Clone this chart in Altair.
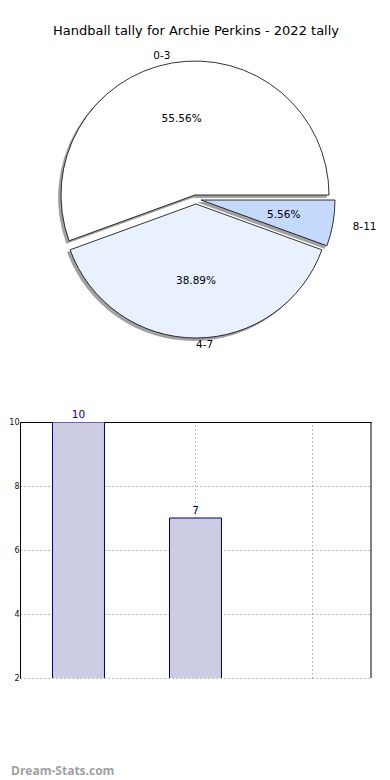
import math
import altair as alt
import pandas as pd

# ---- data ----
categories = ["0-3", "4-7", "8-11"]
tallies = [10, 7, 1]
title_text = "Handball tally for Archie Perkins - 2022 tally"
y_ticks = [2, 4, 6, 8, 10]
y_view = [2, 10]          # visible part of the bar chart's y axis
watermark = "Dream-Stats.com"

df = pd.DataFrame({"group": categories, "tally": tallies})

FONT = "DejaVu Sans"

# ---- pie styling (positions in px inside the pie panel) ----
CX, CY, R = 175, 186, 134
SHADOW_DX, SHADOW_DY = -2.5, 2.5
slice_style = {
    "0-3": dict(fill="#ffffff", dx=0, dy=0, pct_r=77, lab_r=141, align="right"),
    "4-7": dict(fill="#eaf1fe", dx=1, dy=9, pct_r=77, lab_r=141, align="left"),
    "8-11": dict(fill="#c5d9fd", dx=6, dy=5, pct_r=84, lab_r=154, align="left"),
}

theta_scale = alt.Scale(
    domain=[0, sum(tallies)],
    range=[math.pi / 2, math.pi / 2 + 2 * math.pi],
    nice=False,
    zero=True,
)

pie_base = (
    alt.Chart(df)
    .transform_joinaggregate(total="sum(tally)")
    .transform_window(end="sum(tally)", sort=[alt.SortField("group", order="descending")])
    .transform_calculate(
        start="datum.end - datum.tally",
        mid="datum.end - datum.tally / 2",
        pct="format(100 * datum.tally / datum.total, '.2f') + '%'",
    )
)

shadow_layers, slice_layers, text_layers = [], [], []
for cat in categories:
    st = slice_style[cat]
    b = pie_base.transform_filter(alt.datum.group == cat)
    shadow_layers.append(
        b.mark_arc(outerRadius=R, fill="#a2a2a2", stroke="#8a8a8a", strokeWidth=0.6).encode(
            theta=alt.Theta("start:Q", scale=theta_scale, stack=None),
            theta2="end:Q",
            x=alt.value(CX + st["dx"] + SHADOW_DX),
            y=alt.value(CY + st["dy"] + SHADOW_DY),
        )
    )
    slice_layers.append(
        b.mark_arc(outerRadius=R, fill=st["fill"], stroke="black", strokeWidth=0.8).encode(
            theta=alt.Theta("start:Q", scale=theta_scale, stack=None),
            theta2="end:Q",
            x=alt.value(CX + st["dx"]),
            y=alt.value(CY + st["dy"]),
        )
    )
    text_layers.append(
        b.mark_text(font=FONT, fontSize=10.5, color="black", align="center", baseline="middle").encode(
            theta=alt.Theta("mid:Q", scale=theta_scale, stack=None),
            radius=alt.value(st["pct_r"]),
            x=alt.value(CX + st["dx"]),
            y=alt.value(CY + st["dy"]),
            text="pct:N",
        )
    )
    text_layers.append(
        b.mark_text(font=FONT, fontSize=10.5, color="black", align=st["align"], baseline="middle").encode(
            theta=alt.Theta("mid:Q", scale=theta_scale, stack=None),
            radius=alt.value(st["lab_r"]),
            x=alt.value(CX + st["dx"]),
            y=alt.value(CY + st["dy"]),
            text="group:N",
        )
    )

title_layer = (
    alt.Chart(pd.DataFrame({"t": [title_text]}))
    .mark_text(font=FONT, fontSize=13, color="black", align="center", baseline="middle")
    .encode(text="t:N", x=alt.value(176), y=alt.value(22))
)

pie = alt.layer(*shadow_layers, *slice_layers, *text_layers, title_layer).properties(
    width=360, height=360
)

# ---- bar chart ----
BW, BH = 351, 256
GRID = dict(grid=True, gridColor="#a8a8a8", gridDash=[1.5, 2.5], gridWidth=1)

x_enc = alt.X(
    "group:N",
    sort=categories,
    scale=alt.Scale(paddingInner=0.556, paddingOuter=0.278),
    axis=alt.Axis(
        orient="top", labels=False, ticks=False, domain=True, domainColor="black",
        bandPosition=0.5, title=None, **GRID
    ),
)
y_enc = alt.Y(
    "tally:Q",
    scale=alt.Scale(domain=y_view, nice=False, zero=False),
    axis=alt.Axis(
        values=y_ticks, ticks=False, labelFont=FONT, labelFontSize=8, labelColor="#111",
        labelPadding=1, domainColor="black", title=None, **GRID
    ),
)

bar_base = alt.Chart(df)
bars = bar_base.mark_bar(fill="#ccccE2", stroke="#000080", strokeWidth=1, clip=True).encode(
    x=x_enc, y=y_enc
)
bar_labels = (
    bar_base.transform_filter(alt.datum.tally >= y_view[0])
    .mark_text(font=FONT, fontSize=10.5, color="#000080", baseline="bottom", dy=-2)
    .encode(x=x_enc, y=y_enc, text="tally:Q")
)
frame_right = (
    alt.Chart(pd.DataFrame({"k": [0]}))
    .mark_rule(color="black", strokeWidth=1)
    .encode(x=alt.value(BW), y=alt.value(0), y2=alt.value(BH))
)
wm = (
    alt.Chart(pd.DataFrame({"t": [watermark]}))
    .mark_text(font="Open Sans", fontSize=12, fontWeight="bold", color="#a0a0a0", align="left", baseline="middle")
    .encode(text="t:N", x=alt.value(-9), y=alt.value(349))
)

bar_chart = alt.layer(bars, bar_labels, frame_right, wm).properties(width=BW, height=BH)

chart = (
    alt.vconcat(pie, bar_chart, spacing=53, bounds="flush")
    .properties(padding=0)
    .configure_view(stroke="transparent")
)

chart.save("out.html", embed_options={"renderer": "svg", "actions": False})
